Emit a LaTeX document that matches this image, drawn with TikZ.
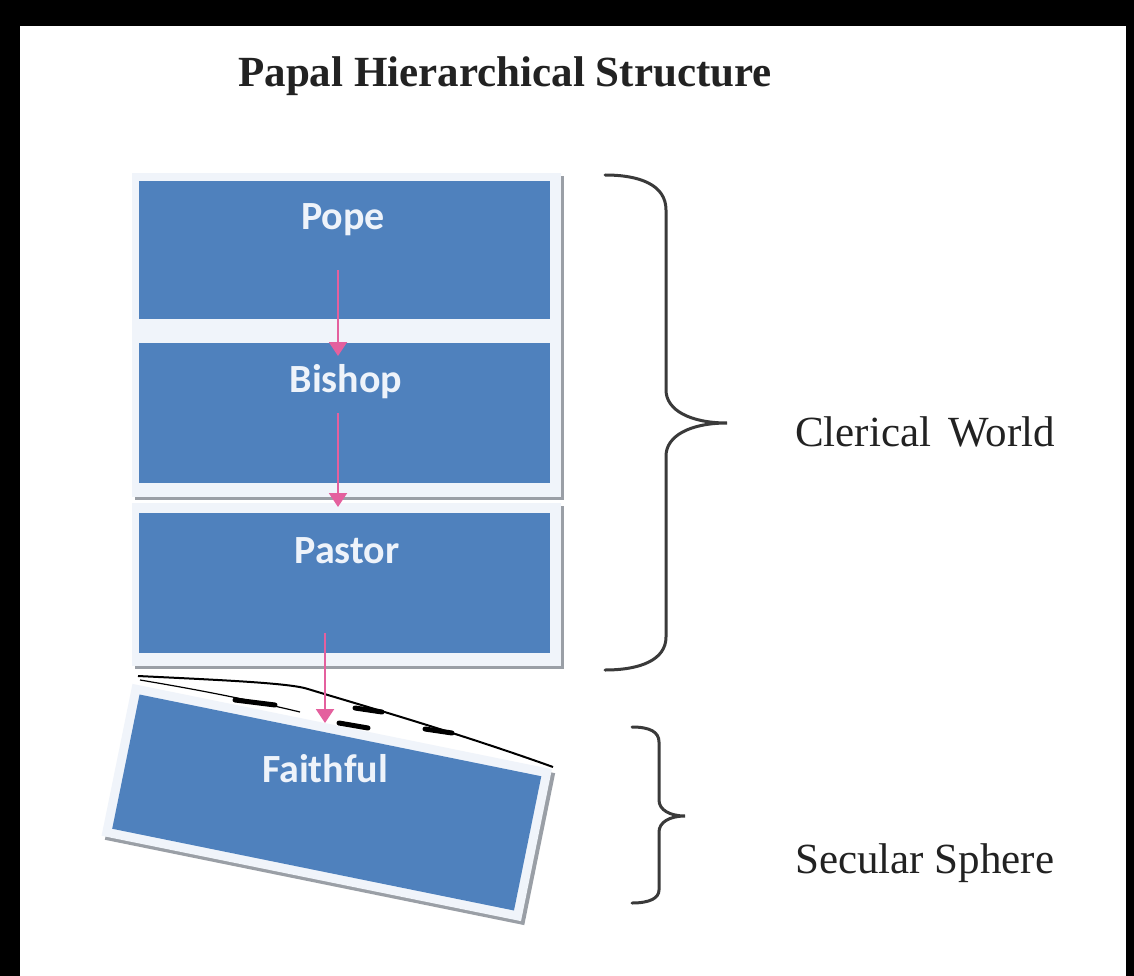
\documentclass[tikz,border=0pt]{standalone}
\usepackage{fontspec}
\setmainfont{Liberation Serif}
\newfontfamily\boxfont{Carlito}
\usetikzlibrary{arrows.meta}
\definecolor{boxblue}{HTML}{4F81BD}
\definecolor{framecol}{HTML}{F0F4FA}
\definecolor{shadowcol}{HTML}{9A9FA6}
\definecolor{arrowpink}{HTML}{E4609E}
\definecolor{labtext}{HTML}{EEF3FA}
\definecolor{inkcol}{HTML}{222222}
\definecolor{bracecol}{HTML}{3A3A3A}
\begin{document}
\begin{tikzpicture}[x=1pt,y=-1pt,
  bluebox/.style={fill=boxblue, draw=none, inner sep=0pt, outer sep=0pt},
  boxlabel/.style={font=\boxfont\bfseries\fontsize{40}{44}\selectfont, text=labtext, inner sep=0pt},
  sidelabel/.style={font=\fontsize{43}{47}\selectfont, text=inkcol, inner sep=0pt, anchor=base west},
  pinkarrow/.style={draw=arrowpink, line width=2pt, -{Triangle[width=18pt,length=14pt]}, arrowpink},
  bracestroke/.style={draw=bracecol, line width=3pt, line cap=round}]
\useasboundingbox (0,0) rectangle (1134,976);
\fill[black] (0,0) rectangle (1134,976);
\fill[white] (20,26) rectangle (1126,976);

% title
\node[font=\bfseries\fontsize{43}{48}\selectfont, text=inkcol, anchor=base, inner sep=0pt] (title) at (505,87) {Papal Hierarchical Structure};

% frames of the upper boxes
\fill[shadowcol] (135,176) rectangle (564,500);
\fill[framecol] (132,173) rectangle (561,497);
\fill[shadowcol] (135,506) rectangle (564,669);
\fill[framecol] (132,503) rectangle (561,666);

% upper boxes
\node[bluebox, anchor=north west, minimum width=411pt, minimum height=138pt] (pope) at (139,181) {};
\node[bluebox, anchor=north west, minimum width=411pt, minimum height=140pt] (bishop) at (139,343) {};
\node[bluebox, anchor=north west, minimum width=411pt, minimum height=140pt] (pastor) at (139,513) {};
\node[boxlabel] (popet) at (343,220) {Pope};
\node[boxlabel] (bishopt) at (346,382) {Bishop};
\node[boxlabel] (pastort) at (347,551) {Pastor};

% tilted faithful box
\node[fill=shadowcol, rotate=-11.5, minimum width=428pt, minimum height=155pt, inner sep=0pt] (faithshadow) at (330,806.5) {};
\node[fill=framecol, rotate=-11.5, minimum width=428pt, minimum height=155pt, inner sep=0pt] (faithframe) at (326.75,802.5) {};
\node[bluebox, rotate=-11.5, minimum width=410pt, minimum height=137pt] (faithbox) at (326.75,802.5) {};
\node[boxlabel] (faitht) at (325,769) {Faithful};

% crumpled black edge above the faithful box
\draw[black, line width=2pt] (138,676) .. controls (220,680) and (290,683) .. (308,689) .. controls (340,699) and (450,730) .. (553,767);
\draw[black, line width=1.2pt] (140,680) .. controls (200,690) and (250,700) .. (300,712);
\foreach \a/\b in {{(235,700)}/{(275,705)}, {(355,708)}/{(382,712)}, {(339,723)}/{(368,728)}, {(425,729)}/{(452,733)}}
  \draw[black, line width=5pt, line cap=round] \a -- \b;

% arrows
\coordinate (a1s) at (338,270);
\coordinate (a1e) at (338,356);
\coordinate (a2s) at (338,413);
\coordinate (a2e) at (338,507);
\coordinate (a3s) at (325,633);
\coordinate (a3e) at (325,723);
\draw[pinkarrow] (a1s) -- (a1e);
\draw[pinkarrow] (a2s) -- (a2e);
\draw[pinkarrow] (a3s) -- (a3e);

% braces
\draw[bracestroke] (605,175) .. controls (640,175) and (666,185) .. (666,210) -- (666,390) .. controls (666,410) and (690,423) .. (727,423) .. controls (690,423) and (666,436) .. (666,456) -- (666,637) .. controls (666,660) and (640,670) .. (605,670);
\draw[bracestroke] (632,727) .. controls (650,727) and (659,732) .. (659,742) -- (659,800) .. controls (659,810) and (670,816) .. (685,816) .. controls (670,816) and (659,822) .. (659,832) -- (659,890) .. controls (659,898) and (650,903) .. (632,903);

% side labels
\node[sidelabel] (clerical) at (795,446) {Clerical\hspace{0.4em}World};
\node[sidelabel] (secular) at (795,873) {Secular Sphere};
\end{tikzpicture}
\end{document}
